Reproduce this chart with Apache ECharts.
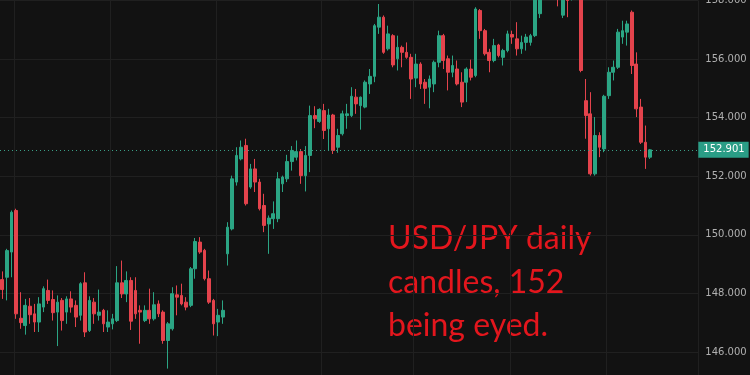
<!DOCTYPE html>
<html>
<head>
<meta charset="utf-8">
<script src="https://cdn.jsdelivr.net/npm/echarts@6/dist/echarts.min.js"></script>
<style>
html,body{margin:0;padding:0;background:#121212;}
#c{width:750px;height:375px;}
</style>
</head>
<body>
<div id="c"></div>
<script>
// USD/JPY daily candles
const open = [148.47,148.55,149.41,150.83,147.15,146.90,147.56,147.30,147.02,147.53,148.10,147.79,147.36,147.76,147.36,147.81,147.59,147.25,148.36,146.73,147.70,147.25,147.42,146.85,146.96,147.07,148.36,147.98,148.44,148.10,147.42,147.07,147.42,147.13,147.64,147.36,146.39,146.79,147.95,147.93,147.70,147.59,148.84,149.75,149.47,148.50,147.76,147.02,147.19,149.35,150.20,151.80,152.59,153.05,151.63,152.25,151.80,151.00,150.37,150.55,150.55,151.74,151.91,152.50,152.65,152.84,152.02,152.71,154.07,153.87,154.24,153.62,154.09,152.99,153.45,154.07,154.07,154.70,154.41,154.36,155.15,155.41,157.09,157.43,156.35,156.80,156.01,156.40,156.23,156.06,155.35,155.83,155.21,155.04,155.15,155.89,156.80,156.01,155.55,155.66,155.21,155.21,155.66,155.44,157.66,156.97,156.23,155.95,156.48,156.06,156.29,156.84,156.69,156.35,156.57,156.57,156.80,157.55,158.60,158.30,158.80,158.50,157.50,158.40,158.10,158.60,158.30,154.58,154.13,152.08,153.39,152.93,154.75,155.55,155.72,156.75,156.92,157.60,155.83,154.36,153.16,152.65];
const close = [148.13,149.46,150.77,147.30,147.00,147.59,147.27,147.02,147.64,148.16,147.76,147.34,147.70,147.07,147.81,147.53,147.19,148.33,146.68,147.76,147.30,147.36,146.96,147.02,147.13,148.36,147.98,148.44,147.05,147.30,147.36,147.42,147.13,147.61,147.30,146.39,146.96,147.99,147.87,147.64,147.53,148.84,149.77,149.41,148.50,147.70,146.96,147.25,147.42,150.26,151.91,152.71,152.99,151.06,152.25,151.80,150.89,150.32,150.57,150.72,151.91,151.97,152.50,152.88,152.84,152.02,152.71,154.07,153.96,154.28,153.56,154.09,152.88,153.39,154.13,154.13,154.73,154.47,154.70,155.21,155.41,157.14,157.43,156.23,156.86,155.80,156.40,156.23,156.06,155.32,155.83,155.15,155.00,155.32,155.89,156.80,155.95,155.55,155.78,155.15,154.53,155.66,155.38,157.71,156.97,156.18,155.95,156.46,156.12,156.29,156.86,156.75,156.35,156.57,156.75,156.80,158.20,158.50,158.30,158.80,158.40,158.20,158.30,158.00,158.60,158.30,155.61,154.07,152.08,153.39,152.99,154.73,155.55,155.72,156.92,156.97,157.20,155.78,154.30,153.16,152.65,152.90];
const low = [147.81,147.76,148.55,147.13,146.79,146.59,146.96,146.68,146.68,147.36,147.64,147.07,146.20,146.73,146.96,147.34,146.85,147.07,146.51,146.68,146.96,147.07,146.68,146.68,146.77,147.02,147.84,147.70,146.75,147.13,146.28,147.02,146.96,147.07,147.19,146.28,145.43,146.73,147.25,147.59,147.42,147.53,148.50,149.35,148.44,147.64,146.56,146.54,146.96,148.95,150.15,151.68,152.54,151.00,151.57,151.46,150.83,150.09,149.35,150.20,150.43,151.46,151.80,152.19,152.54,151.74,151.48,152.14,153.64,153.82,153.27,152.88,152.76,152.80,153.39,153.62,154.02,154.13,153.59,154.32,154.81,155.21,156.86,156.18,156.29,155.72,155.61,155.72,156.01,154.64,155.04,154.98,154.47,154.32,154.87,155.72,155.66,154.93,155.38,155.10,154.36,154.53,155.27,155.38,156.69,156.12,155.55,155.89,156.06,155.78,156.23,156.52,156.12,156.18,156.29,156.46,156.75,157.40,158.10,158.20,158.10,157.80,157.40,157.43,158.00,158.10,155.55,153.28,152.02,152.02,152.65,152.82,154.64,155.27,155.66,156.52,156.46,155.49,154.02,153.10,152.25,152.59];
const high = [148.75,149.52,150.83,150.89,148.04,147.81,147.84,147.64,147.87,148.24,148.47,148.10,147.93,147.84,147.90,148.07,147.76,148.38,148.72,147.90,147.84,148.13,147.47,147.42,147.30,148.93,149.12,148.75,148.55,148.55,147.59,147.59,148.16,148.04,147.76,147.42,147.02,148.21,148.27,148.33,147.87,148.90,149.89,149.92,149.52,148.78,147.81,147.47,147.76,150.43,152.02,152.99,153.22,153.28,152.42,152.59,151.91,151.40,150.66,151.14,152.14,152.02,152.73,153.03,153.22,152.93,153.03,154.41,154.39,154.32,154.47,154.30,154.13,153.62,154.24,154.47,155.04,154.98,154.72,155.27,155.66,157.20,157.88,157.49,157.14,156.85,156.80,156.46,156.57,156.18,156.18,155.89,155.32,155.44,155.95,156.97,156.86,156.12,156.12,155.95,155.55,155.72,155.98,157.77,157.71,157.03,156.35,156.69,156.52,156.35,156.97,156.97,157.26,156.80,156.86,156.86,158.40,158.80,158.90,159.10,159.00,158.70,158.50,158.60,158.80,158.90,158.50,155.32,154.87,154.02,153.50,154.78,155.72,155.95,157.03,157.31,157.31,157.66,156.23,154.64,153.73,152.93];
const lastPrice = 152.901;
const yTicks = [146, 148, 150, 152, 154, 156, 158];
const monthStarts = [3, 24, 47, 70, 90, 111, 132];
const note = 'USD/JPY daily\ncandles, 152\nbeing eyed.';

const days = open.map((_, i) => 'D' + (i + 1));
const ohlc = open.map((o, i) => [o, close[i], low[i], high[i]]);

const UP = '#2ba584', DOWN = '#e4434c';
const chart = echarts.init(document.getElementById('c'), null, {renderer: 'canvas'});
chart.setOption({
  backgroundColor: '#121212',
  animation: false,
  grid: {left: 0, right: 51.7, top: 0.5, height: 410, containLabel: false, outerBoundsMode: 'none'},
  xAxis: {
    type: 'category',
    data: days,
    max: days.length + 9,
    boundaryGap: true,
    axisLine: {show: false},
    axisTick: {show: false},
    axisLabel: {show: false},
    splitLine: {
      show: true,
      interval: (idx) => monthStarts.indexOf(idx) >= 0,
      lineStyle: {color: '#202020', width: 1}
    }
  },
  yAxis: {
    type: 'value',
    position: 'right',
    min: 144,
    max: 158,
    interval: 2,
    axisLine: {show: false},
    axisTick: {show: false},
    axisLabel: {
      margin: 7,
      color: '#b0b0b0',
      fontFamily: 'DejaVu Sans',
      fontSize: 10,
      formatter: (v) => yTicks.indexOf(v) >= 0 ? v.toFixed(3) : ''
    },
    splitLine: {lineStyle: {color: '#202020', width: 1}}
  },
  series: [{
    type: 'candlestick',
    data: ohlc,
    barWidth: 3.2,
    clip: true,
    itemStyle: {
      color: UP, color0: DOWN,
      borderColor: UP, borderColor0: DOWN,
      borderWidth: 1
    },
    markLine: {
      silent: true,
      symbol: ['none', 'none'],
      data: [{yAxis: lastPrice}],
      lineStyle: {color: '#3a9e86', type: [1, 3], width: 1},
      label: {
        show: true,
        position: 'end',
        distance: 0,
        formatter: lastPrice.toFixed(3),
        color: '#ffffff',
        backgroundColor: '#2a9d86',
        fontFamily: 'DejaVu Sans',
        fontSize: 10,
        padding: [3, 4, 3, 5]
      }
    }
  }],
  graphic: [{
    type: 'text',
    left: 388,
    top: 217,
    style: {
      text: note,
      font: '32px Lato',
      fill: '#e3161d',
      lineHeight: 43.5
    }
  }]
});
</script>
</body>
</html>
